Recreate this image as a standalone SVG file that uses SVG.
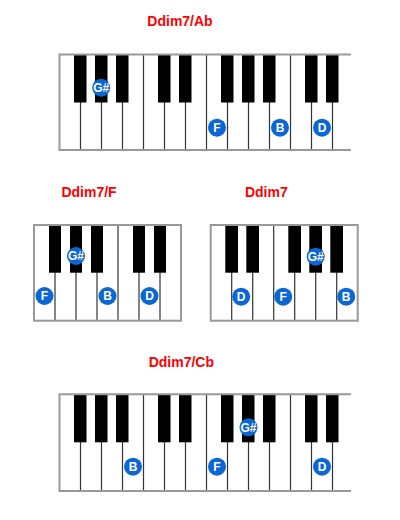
<svg xmlns="http://www.w3.org/2000/svg" width="400" height="520" viewBox="0 0 400 520">
<style>
.title{font-family:"Liberation Sans",Arial,sans-serif;font-weight:bold;font-size:14px;fill:#ff0000;text-anchor:middle}
.div{stroke:#333;stroke-width:1.2}
.blk{fill:#000}
.out{fill:none;stroke:#999;stroke-width:2}
.dot{fill:#0b66d6}
.lbl{font-family:"Liberation Sans",Arial,sans-serif;font-weight:bold;font-size:12px;fill:#fff;text-anchor:middle}
</style>
<rect width="400" height="520" fill="#fff"/>

<g id="chord-ddim7-ab">
<text class="title" x="180" y="26">Ddim7/Ab</text>
<g class="div">
<line x1="80.5" y1="54.5" x2="80.5" y2="150"/><line x1="101.5" y1="54.5" x2="101.5" y2="150"/><line x1="122.5" y1="54.5" x2="122.5" y2="150"/><line x1="143.5" y1="54.5" x2="143.5" y2="150"/><line x1="164.5" y1="54.5" x2="164.5" y2="150"/><line x1="185.5" y1="54.5" x2="185.5" y2="150"/><line x1="206.5" y1="54.5" x2="206.5" y2="150"/><line x1="227.5" y1="54.5" x2="227.5" y2="150"/><line x1="248.5" y1="54.5" x2="248.5" y2="150"/><line x1="269.5" y1="54.5" x2="269.5" y2="150"/><line x1="290.5" y1="54.5" x2="290.5" y2="150"/><line x1="311.5" y1="54.5" x2="311.5" y2="150"/><line x1="332.5" y1="54.5" x2="332.5" y2="150"/>
</g>
<g class="blk">
<rect x="74" y="54.5" width="12.5" height="48"/><rect x="95" y="54.5" width="12.5" height="48"/><rect x="116" y="54.5" width="12.5" height="48"/><rect x="158" y="54.5" width="12.5" height="48"/><rect x="179" y="54.5" width="12.5" height="48"/><rect x="221" y="54.5" width="12.5" height="48"/><rect x="242" y="54.5" width="12.5" height="48"/><rect x="263" y="54.5" width="12.5" height="48"/><rect x="305" y="54.5" width="12.5" height="48"/><rect x="326" y="54.5" width="12.5" height="48"/>
</g>
<path class="out" d="M351 54.5H59.5V150H351"/>
<circle class="dot" cx="101.2" cy="87.7" r="9"/><text class="lbl" x="101.2" y="92">G#</text>
<circle class="dot" cx="217" cy="127.7" r="9"/><text class="lbl" x="217" y="132">F</text>
<circle class="dot" cx="280" cy="127.7" r="9"/><text class="lbl" x="280" y="132">B</text>
<circle class="dot" cx="322" cy="127.7" r="9"/><text class="lbl" x="322" y="132">D</text>
</g>

<g id="chord-ddim7-f">
<text class="title" x="89" y="196.5">Ddim7/F</text>
<g class="div">
<line x1="55" y1="225" x2="55" y2="320.7"/><line x1="76" y1="225" x2="76" y2="320.7"/><line x1="97" y1="225" x2="97" y2="320.7"/><line x1="118" y1="225" x2="118" y2="320.7"/><line x1="139" y1="225" x2="139" y2="320.7"/><line x1="160" y1="225" x2="160" y2="320.7"/>
</g>
<g class="blk">
<rect x="49" y="225" width="12" height="47.7"/><rect x="70" y="225" width="12" height="47.7"/><rect x="91" y="225" width="12" height="47.7"/><rect x="133" y="225" width="12" height="47.7"/><rect x="154" y="225" width="12" height="47.7"/>
</g>
<rect class="out" x="34" y="225" width="147" height="95.7"/>
<circle class="dot" cx="76" cy="256" r="9"/><text class="lbl" x="76" y="260.3">G#</text>
<circle class="dot" cx="44.5" cy="296" r="9"/><text class="lbl" x="44.5" y="300.3">F</text>
<circle class="dot" cx="107.5" cy="296" r="9"/><text class="lbl" x="107.5" y="300.3">B</text>
<circle class="dot" cx="149.5" cy="296" r="9"/><text class="lbl" x="149.5" y="300.3">D</text>
</g>

<g id="chord-ddim7">
<text class="title" x="266.3" y="197">Ddim7</text>
<g class="div">
<line x1="231.7" y1="225" x2="231.7" y2="320.7"/><line x1="252.7" y1="225" x2="252.7" y2="320.7"/><line x1="273.7" y1="225" x2="273.7" y2="320.7"/><line x1="294.7" y1="225" x2="294.7" y2="320.7"/><line x1="315.7" y1="225" x2="315.7" y2="320.7"/><line x1="336.7" y1="225" x2="336.7" y2="320.7"/>
</g>
<g class="blk">
<rect x="225.3" y="225" width="12.7" height="47.7"/><rect x="246.3" y="225" width="12.7" height="47.7"/><rect x="288.3" y="225" width="12.7" height="47.7"/><rect x="309.3" y="225" width="12.7" height="47.7"/><rect x="330.3" y="225" width="12.7" height="47.7"/>
</g>
<rect class="out" x="210.7" y="225" width="147" height="95.7"/>
<circle class="dot" cx="241.2" cy="296.7" r="9"/><text class="lbl" x="241.2" y="301">D</text>
<circle class="dot" cx="283.2" cy="296.7" r="9"/><text class="lbl" x="283.2" y="301">F</text>
<circle class="dot" cx="315.7" cy="256.7" r="9"/><text class="lbl" x="315.7" y="261">G#</text>
<circle class="dot" cx="346.2" cy="296.7" r="9"/><text class="lbl" x="346.2" y="301">B</text>
</g>

<g id="chord-ddim7-cb">
<text class="title" x="181.3" y="366.7">Ddim7/Cb</text>
<g class="div">
<line x1="80.5" y1="394.3" x2="80.5" y2="491"/><line x1="101.5" y1="394.3" x2="101.5" y2="491"/><line x1="122.5" y1="394.3" x2="122.5" y2="491"/><line x1="143.5" y1="394.3" x2="143.5" y2="491"/><line x1="164.5" y1="394.3" x2="164.5" y2="491"/><line x1="185.5" y1="394.3" x2="185.5" y2="491"/><line x1="206.5" y1="394.3" x2="206.5" y2="491"/><line x1="227.5" y1="394.3" x2="227.5" y2="491"/><line x1="248.5" y1="394.3" x2="248.5" y2="491"/><line x1="269.5" y1="394.3" x2="269.5" y2="491"/><line x1="290.5" y1="394.3" x2="290.5" y2="491"/><line x1="311.5" y1="394.3" x2="311.5" y2="491"/><line x1="332.5" y1="394.3" x2="332.5" y2="491"/>
</g>
<g class="blk">
<rect x="74" y="394.3" width="12.5" height="48"/><rect x="95" y="394.3" width="12.5" height="48"/><rect x="116" y="394.3" width="12.5" height="48"/><rect x="158" y="394.3" width="12.5" height="48"/><rect x="179" y="394.3" width="12.5" height="48"/><rect x="221" y="394.3" width="12.5" height="48"/><rect x="242" y="394.3" width="12.5" height="48"/><rect x="263" y="394.3" width="12.5" height="48"/><rect x="305" y="394.3" width="12.5" height="48"/><rect x="326" y="394.3" width="12.5" height="48"/>
</g>
<path class="out" d="M351 394.3H59.5V491H351"/>
<circle class="dot" cx="133" cy="466.7" r="9"/><text class="lbl" x="133" y="471">B</text>
<circle class="dot" cx="217" cy="466.7" r="9"/><text class="lbl" x="217" y="471">F</text>
<circle class="dot" cx="248.5" cy="427.3" r="9"/><text class="lbl" x="248.5" y="431.6">G#</text>
<circle class="dot" cx="322" cy="466.7" r="9"/><text class="lbl" x="322" y="471">D</text>
</g>

<g id="connectors"/>
</svg>
